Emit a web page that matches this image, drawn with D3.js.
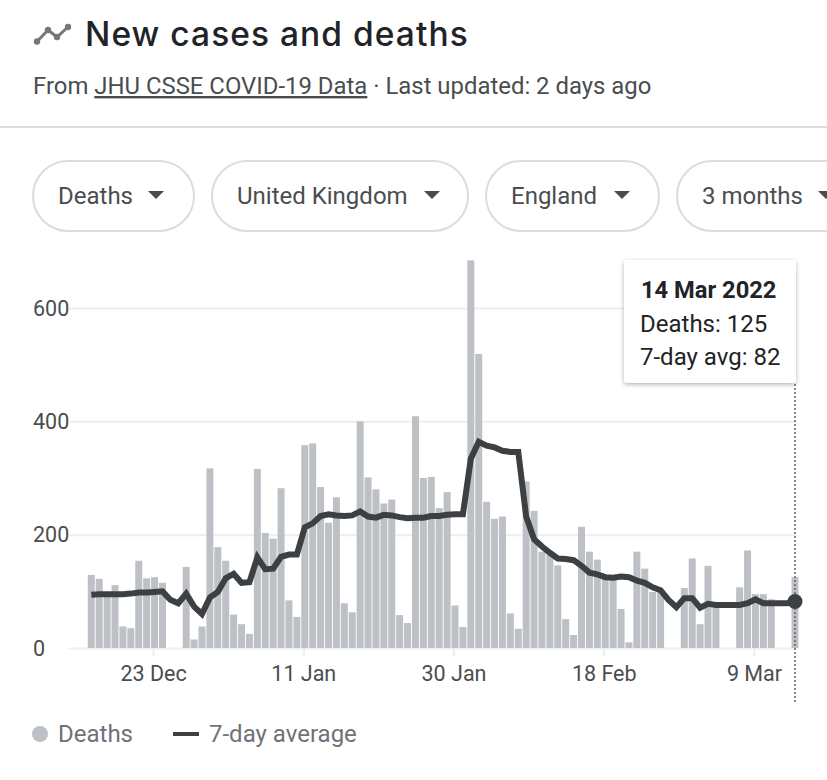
<!DOCTYPE html>
<html lang="en">
<head>
<meta charset="UTF-8">
<title>New cases and deaths</title>
<script src="https://d3js.org/d3.v7.min.js"></script>
<style>
  html, body { margin: 0; padding: 0; background: #fff; overflow: hidden; }
  svg { display: block; font-family: Roboto, sans-serif; }
  .grid line, .ticks line { stroke: #eeeeef; stroke-width: 2; }
  .grid path, .ticks path { display: none; }
  .grid text, .ticks text { font-size: 21.5px; fill: #4a4d50; font-family: Roboto, sans-serif; }
</style>
</head>
<body>
<div id="wrapper"></div>
<script>
// one value per day, 15 Dec 2021 to 14 Mar 2022
const startDate = new Date(2021, 11, 15);

const deaths = [
  129, 122, 97, 111, 38, 35, 154, 123, 125, 115,
  0, 0, 143, 15, 38, 317, 178, 154, 59, 42,
  25, 316, 203, 193, 282, 84, 55, 358, 361, 284,
  221, 266, 79, 63, 400, 301, 280, 255, 262, 58,
  44, 409, 300, 302, 247, 275, 75, 37, 684, 519,
  258, 228, 232, 61, 34, 294, 242, 170, 165, 146,
  51, 23, 214, 170, 156, 121, 120, 69, 10, 170,
  140, 99, 100, 0, 0, 106, 158, 42, 145, 73,
  0, 0, 107, 172, 95, 95, 86, 0, 0, 125
];

const avg7 = [
  94, 95, 95, 95, 95, 96, 98, 98, 99, 100,
  85, 79, 96, 73, 60, 89, 99, 123, 131, 115,
  116, 160, 139, 140, 161, 165, 165, 213, 220, 233,
  236, 234, 233, 234, 241, 232, 230, 235, 234, 231,
  229, 230, 230, 233, 233, 235, 236, 236, 334, 364,
  357, 354, 348, 346, 346, 232, 192, 179, 168, 158,
  157, 155, 145, 133, 130, 125, 124, 126, 125, 119,
  115, 107, 102, 85, 72, 88, 88, 71, 78, 76,
  76, 76, 76, 79, 86, 79, 79, 79, 79, 82
];

const days = deaths.map((d, i) => d3.timeDay.offset(startDate, i));

const yTicks = [0, 200, 400, 600];
const xTickDates = [
  new Date(2021, 11, 23), new Date(2022, 0, 11), new Date(2022, 0, 30),
  new Date(2022, 1, 18), new Date(2022, 2, 9)
];

const chips = ["Deaths", "United Kingdom", "England", "3 months"];
const chipLefts = [33, 212, 486, 677];
const chipWidths = [161, 256, 173, 190];
const chipArrows = [123, 220, 136, 149]; // arrow centre from chip left

const width = 827, height = 780;

const svg = d3.select("#wrapper").append("svg")
  .attr("width", width)
  .attr("height", height);

// header
const iconPts = [[37, 41.5], [48, 30], [57, 37], [68, 27]];
const icon = svg.append("g").attr("fill", "#757779");
icon.append("path")
  .attr("d", d3.line()(iconPts))
  .attr("fill", "none")
  .attr("stroke", "#757779")
  .attr("stroke-width", 3);
iconPts.forEach(p => {
  icon.append("circle").attr("cx", p[0]).attr("cy", p[1]).attr("r", 3.2);
});

svg.append("text")
  .attr("x", 85).attr("y", 46)
  .attr("font-family", "Inter, Roboto, sans-serif")
  .attr("font-size", 33.5).attr("font-weight", 500)
  .attr("letter-spacing", "1.05px")
  .attr("fill", "#212326")
  .text("New cases and deaths");

const sub = svg.append("text")
  .attr("x", 33).attr("y", 94)
  .attr("font-size", 23.9)
  .attr("fill", "#4a4d50");
sub.append("tspan").text("From ");
sub.append("tspan").attr("text-decoration", "underline").text("JHU CSSE COVID-19 Data");
sub.append("tspan").text(" · Last updated: 2 days ago");

svg.append("line")
  .attr("x1", 0).attr("x2", width)
  .attr("y1", 127).attr("y2", 127)
  .attr("stroke", "#dadce0").attr("stroke-width", 2);

// dropdown chips
chips.forEach((c, i) => {
  const g = svg.append("g").attr("transform", "translate(" + chipLefts[i] + ",161)");
  const a = chipArrows[i];
  g.append("rect")
    .attr("width", chipWidths[i]).attr("height", 70)
    .attr("rx", 35)
    .attr("fill", "#fff").attr("stroke", "#dadce0").attr("stroke-width", 2);
  g.append("text")
    .attr("x", 25).attr("y", 43)
    .attr("font-size", 24)
    .attr("fill", "#4a4d50")
    .text(c);
  g.append("path")
    .attr("d", d3.line()([[a - 8, 30], [a + 8, 30], [a, 38]]) + "Z")
    .attr("fill", "#4a4d50");
});

// scales
const x = d3.scaleTime()
  .domain([startDate, days[days.length - 1]])
  .range([91.3, 795]);

const y = d3.scaleLinear()
  .domain([0, 600])
  .range([648, 308]);

const barW = 7;

// gridlines
const yAxis = d3.axisLeft(y)
  .tickValues(yTicks)
  .tickSize(0)
  .tickFormat(d3.format("d"));

svg.append("g")
  .attr("class", "grid")
  .call(yAxis)
  .call(g => g.selectAll("line")
    .attr("x1", 69).attr("x2", 796))
  .call(g => g.selectAll("text")
    .attr("x", 33).attr("dy", "0.34em")
    .attr("text-anchor", "start"));

// x axis
const xAxis = d3.axisBottom(x)
  .tickValues(xTickDates)
  .tickSize(8)
  .tickPadding(10)
  .tickFormat(d3.timeFormat("%-d %b"));

svg.append("g")
  .attr("class", "ticks")
  .attr("transform", "translate(-1.5,648)")
  .call(xAxis);

// bars
svg.append("g").selectAll("rect")
  .data(deaths)
  .join("rect")
  .attr("x", (d, i) => x(days[i]) - barW / 2)
  .attr("y", d => y(d))
  .attr("width", barW)
  .attr("height", d => y(0) - y(d))
  .attr("fill", "#bdc1c6");

// hover guide
svg.append("line")
  .attr("x1", x(days[89])).attr("x2", x(days[89]))
  .attr("y1", 384).attr("y2", 703)
  .attr("stroke", "#5f6368").attr("stroke-width", 1.5)
  .attr("stroke-dasharray", "2,2");

// 7-day average line
const line = d3.line()
  .x((d, i) => x(days[i]))
  .y(d => y(d));

svg.append("path")
  .datum(avg7)
  .attr("d", line)
  .attr("fill", "none")
  .attr("stroke", "#3c4043")
  .attr("stroke-width", 6)
  .attr("stroke-linejoin", "miter");

svg.append("circle")
  .attr("cx", x(days[89])).attr("cy", y(avg7[89]))
  .attr("r", 7.5)
  .attr("fill", "#3c4043");

// tooltip
const shadow = svg.append("defs").append("filter")
  .attr("id", "shadow")
  .attr("x", "-10%").attr("y", "-10%").attr("width", "120%").attr("height", "120%");
shadow.append("feDropShadow")
  .attr("dx", 0).attr("dy", 1.5)
  .attr("stdDeviation", 2)
  .attr("flood-color", "#000")
  .attr("flood-opacity", 0.3);

const tip = svg.append("g").attr("transform", "translate(624,260)");
tip.append("rect")
  .attr("width", 172).attr("height", 123)
  .attr("rx", 3)
  .attr("fill", "#fff")
  .attr("filter", "url(#shadow)");
tip.append("text")
  .attr("x", 17).attr("y", 38)
  .attr("font-size", 23.7).attr("font-weight", 700)
  .attr("fill", "#212326")
  .text("14 Mar 2022");
tip.append("text")
  .attr("x", 16).attr("y", 72)
  .attr("font-size", 24)
  .attr("fill", "#212326")
  .text("Deaths: " + deaths[89]);
tip.append("text")
  .attr("x", 16).attr("y", 105)
  .attr("font-size", 24)
  .attr("fill", "#212326")
  .text("7-day avg: " + avg7[89]);

// legend
svg.append("circle")
  .attr("cx", 40).attr("cy", 734).attr("r", 8)
  .attr("fill", "#bdc1c6");
svg.append("text")
  .attr("x", 58).attr("y", 742)
  .attr("font-size", 24).attr("fill", "#6f7276")
  .text("Deaths");
svg.append("line")
  .attr("x1", 173).attr("x2", 199)
  .attr("y1", 734).attr("y2", 734)
  .attr("stroke", "#3c4043").attr("stroke-width", 4);
svg.append("text")
  .attr("x", 209).attr("y", 742)
  .attr("font-size", 24).attr("fill", "#6f7276")
  .text("7-day average");
</script>
</body>
</html>
